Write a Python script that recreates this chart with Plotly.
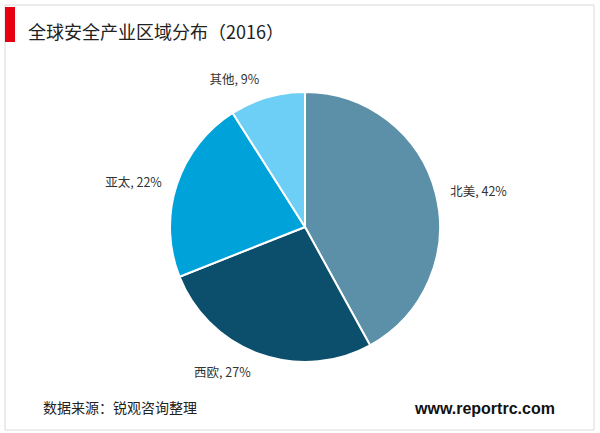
import plotly.graph_objects as go

regions = ["北美", "西欧", "亚太", "其他"]
shares = [42, 27, 22, 9]
colors = ["#5b90a8", "#0b4f6c", "#00a2da", "#6dcff5"]

title_text = "全球安全产业区域分布（2016）"
source_text = "数据来源：锐观咨询整理"
site_text = "www.reportrc.com"

W, H = 600, 433
CX, CY, R = 305, 227, 135
RL = 145  # radius of the label ring
font = "Noto Sans CJK SC, Microsoft YaHei, sans-serif"

def dom(r):
    return dict(x=[(CX - r) / W, (CX + r) / W], y=[1 - (CY + r) / H, 1 - (CY - r) / H])

fig = go.Figure()
# slices
fig.add_trace(go.Pie(
    labels=regions, values=shares, sort=False, direction="clockwise", rotation=0,
    marker=dict(colors=colors, line=dict(color="white", width=2)),
    textinfo="none", showlegend=False, automargin=False, domain=dom(R),
    hoverinfo="label+percent",
))
# outside labels on a slightly larger transparent ring
fig.add_trace(go.Pie(
    labels=regions, values=shares, sort=False, direction="clockwise", rotation=0,
    marker=dict(colors=["rgba(0,0,0,0)"] * len(regions), line=dict(width=0)),
    texttemplate="%{label}, %{value}%", textposition="outside",
    textfont=dict(size=12.5, color="#333333", family=font),
    showlegend=False, automargin=False, domain=dom(RL), hoverinfo="skip",
))

fig.update_layout(
    width=W, height=H,
    margin=dict(l=0, r=0, t=0, b=0),
    paper_bgcolor="white",
    plot_bgcolor="white",
    font=dict(family=font),
    shapes=[
        dict(type="rect", xref="paper", yref="paper",
             x0=5/W, x1=594/W, y0=1-430/H, y1=1-5/H,
             line=dict(color="#d9d9d9", width=1), fillcolor="rgba(0,0,0,0)"),
        dict(type="rect", xref="paper", yref="paper",
             x0=5/W, x1=15/W, y0=1-42/H, y1=1-7/H,
             line=dict(width=0), fillcolor="#e60012"),
    ],
    annotations=[
        dict(text=title_text, xref="paper", yref="paper", x=26/W, y=1-31/H,
             xanchor="left", yanchor="middle", showarrow=False,
             font=dict(size=18, color="#222222", family=font)),
        dict(text=source_text, xref="paper", yref="paper", x=41/W, y=1-407/H,
             xanchor="left", yanchor="middle", showarrow=False,
             font=dict(size=14, color="#222222", family=font)),
        dict(text="<b>" + site_text + "</b>", xref="paper", yref="paper", x=557/W, y=1-408/H,
             xanchor="right", yanchor="middle", showarrow=False,
             font=dict(size=16, color="#111111", family="Arial, Liberation Sans, sans-serif")),
    ],
)

fig.write_html("out.html", config={"displayModeBar": False},
               post_script="document.body.style.margin='0';document.body.style.overflow='hidden';")
